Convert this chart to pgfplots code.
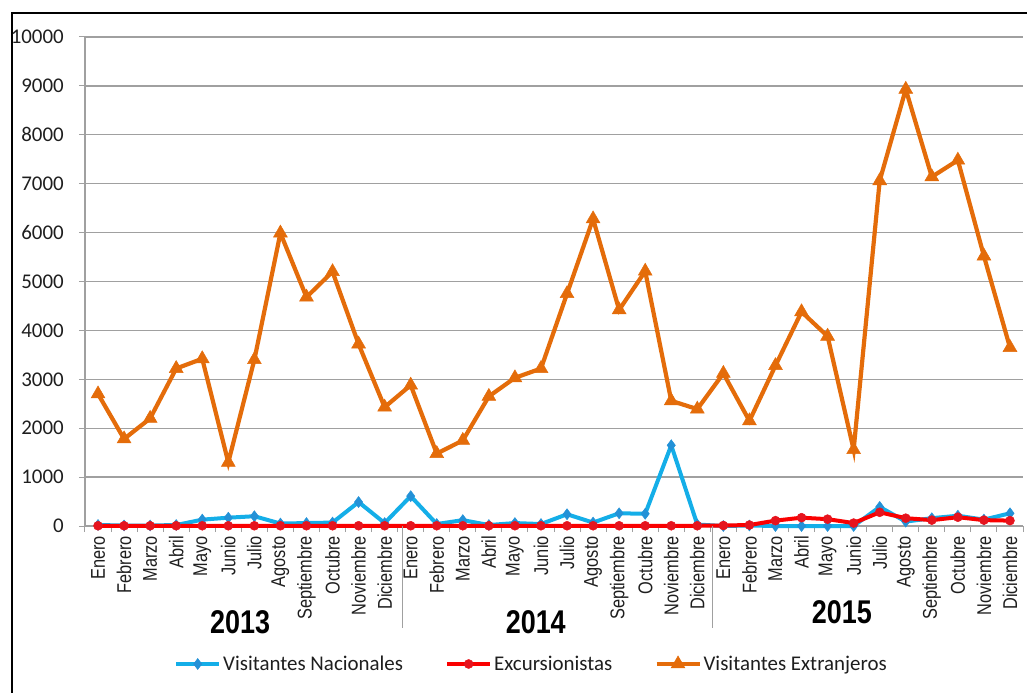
\documentclass[border=0pt]{standalone}
\usepackage{fontspec}
\setmainfont{Carlito}
\newfontfamily\narrowfont[FakeStretch=0.82]{Liberation Sans}
\usepackage{pgfplots}
\pgfplotsset{compat=1.18}
\definecolor{cOr}{RGB}{228,108,10}
\definecolor{cBl}{RGB}{20,174,232}
\definecolor{cBlm}{RGB}{35,145,215}
\definecolor{cRd}{RGB}{250,0,0}
\definecolor{cRdm}{RGB}{230,20,30}
\definecolor{cGrid}{RGB}{160,160,160}
\definecolor{cTxt}{RGB}{30,30,30}
\begin{document}
\begin{tikzpicture}
\path[use as bounding box] (-85bp,-167bp) rectangle (942bp,526bp);
\draw[black, line width=1.3bp] (-73bp,-180bp) -- (-73bp,513bp) -- (960bp,513bp);
\begin{axis}[
  at={(0,0)}, anchor=south west,
  scale only axis, width=938bp, height=489bp,
  xmin=-0.5, xmax=35.5, ymin=0, ymax=10000,
  clip=false,
  axis x line*=bottom, axis y line*=left,
  axis line style={cGrid, line width=1.2bp, -},
  ytick={0,1000,...,10000},
  minor ytick={0,1000,...,10000},
  xtick={0,...,35},
  minor xtick={-0.5,0.5,...,35.5},
  major tick length=0pt, minor tick length=6bp, tick align=outside,
  minor tick style={cGrid, line width=1bp},
  ymajorgrids, major grid style={cGrid, line width=1.3bp},
  xticklabels={Enero,Febrero,Marzo,Abril,Mayo,Junio,Julio,Agosto,Septiembre,Octubre,Noviembre,Diciembre,
               Enero,Febrero,Marzo,Abril,Mayo,Junio,Julio,Agosto,Septiembre,Octubre,Noviembre,Diciembre,
               Enero,Febrero,Marzo,Abril,Mayo,Junio,Julio,Agosto,Septiembre,Octubre,Noviembre,Diciembre},
  xticklabel style={font=\narrowfont\fontsize{20}{20}\selectfont, rotate=90, anchor=east, inner sep=0pt, text=cTxt},
  xticklabel shift=10bp,
  yticklabel style={font=\fontsize{21}{21}\selectfont, inner sep=0pt, xshift=-21bp, text=cTxt},
  /pgf/number format/assume math mode=true,
  /pgf/number format/set thousands separator={},
  scaled y ticks=false,
  legend columns=3,
  legend style={at={(0.476,-0.2822)}, anchor=center, draw=none, fill=none,
    font=\fontsize{21}{21}\selectfont, text=cTxt,
    /tikz/every even column/.append style={column sep=40bp},
    nodes={inner sep=2bp}},
  legend image code/.code={\draw[mark repeat=2,mark phase=2,#1] plot coordinates {(0bp,0bp)(21.5bp,0bp)(43bp,0bp)};},
]
\addplot[color=cBl, line width=4bp, mark=diamond*, mark size=5.5bp, mark options={fill=cBlm, draw=cBlm, line width=0.5bp}] coordinates {
(0,20)(1,10)(2,10)(3,20)(4,130)(5,170)(6,200)(7,50)(8,60)(9,70)(10,490)(11,60)
(12,610)(13,40)(14,120)(15,20)(16,60)(17,40)(18,240)(19,70)(20,260)(21,250)(22,1650)(23,30)
(24,0)(25,10)(26,0)(27,0)(28,0)(29,0)(30,390)(31,90)(32,160)(33,210)(34,130)(35,260)};
\addlegendentry{Visitantes Nacionales}
\addplot[color=cRd, line width=4bp, mark=*, mark size=4.5bp, mark options={fill=cRdm, draw=cRdm, line width=0.5bp}] coordinates {
(0,5)(1,5)(2,5)(3,5)(4,5)(5,5)(6,5)(7,5)(8,5)(9,5)(10,5)(11,5)
(12,5)(13,5)(14,5)(15,5)(16,5)(17,5)(18,5)(19,5)(20,5)(21,5)(22,5)(23,5)
(24,10)(25,20)(26,110)(27,170)(28,140)(29,60)(30,280)(31,160)(32,120)(33,180)(34,120)(35,110)};
\addlegendentry{Excursionistas}
\addplot[color=cOr, line width=4.2bp, mark=triangle*, mark size=8bp, mark options={fill=cOr, draw=cOr, line width=0.5bp}] coordinates {
(0,2700)(1,1780)(2,2200)(3,3220)(4,3420)(5,1300)(6,3400)(7,5990)(8,4680)(9,5200)(10,3720)(11,2430)
(12,2880)(13,1480)(14,1750)(15,2650)(16,3030)(17,3220)(18,4750)(19,6280)(20,4420)(21,5210)(22,2560)(23,2390)
(24,3120)(25,2150)(26,3280)(27,4380)(28,3880)(29,1560)(30,7060)(31,8930)(32,7140)(33,7480)(34,5520)(35,3650)};
\addlegendentry{Visitantes Extranjeros}
\draw[cGrid, line width=1bp] (axis cs:11.7,0) -- ([yshift=-102bp]axis cs:11.7,0);
\draw[cGrid, line width=1bp] (axis cs:23.6,0) -- ([yshift=-102bp]axis cs:23.6,0);
\node[font=\narrowfont\bfseries\fontsize{33}{33}\selectfont, text=black] at ([yshift=-96.5bp]axis cs:5.45,0) {2013};
\node[font=\narrowfont\bfseries\fontsize{33}{33}\selectfont, text=black] at ([yshift=-96.5bp]axis cs:16.8,0) {2014};
\node[font=\narrowfont\bfseries\fontsize{33}{33}\selectfont, text=black] at ([yshift=-86bp]axis cs:28.55,0) {2015};
\end{axis}
\end{tikzpicture}
\end{document}
